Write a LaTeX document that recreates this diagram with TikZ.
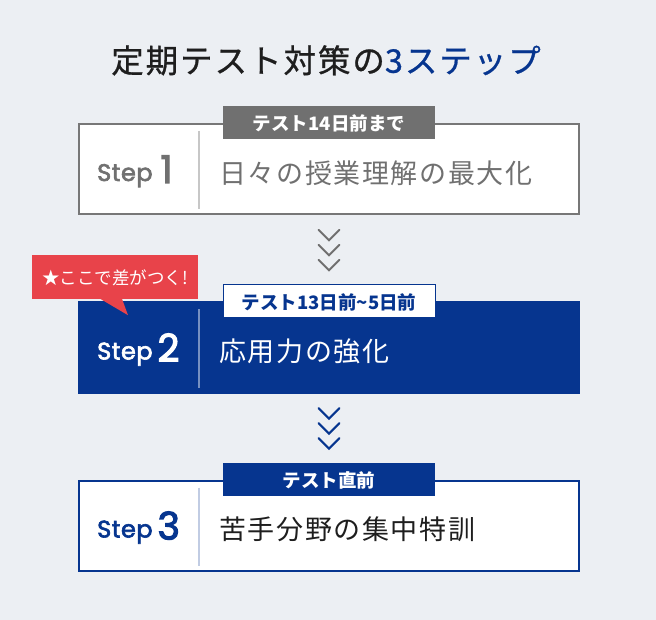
\documentclass[tikz,border=0pt]{standalone}
\usepackage{fontspec}
\setmainfont{Noto Sans CJK JP}
\newfontfamily\jp[LetterSpace=6]{Noto Sans CJK JP}
\newfontfamily\jpt{Noto Sans CJK JP}
\newfontfamily\jptitle[LetterSpace=6,FakeBold=0.8]{Noto Sans CJK JP}
\newfontfamily\stepfont[FakeBold=2.6,LetterSpace=2]{Poppins}
\newfontfamily\stepnum[FakeBold=3]{Poppins}
\usetikzlibrary{positioning,calc}

\definecolor{bggray}{HTML}{ECEFF3}
\definecolor{stepgray}{HTML}{707070}
\definecolor{stepblue}{HTML}{06358F}
\definecolor{calloutred}{HTML}{E8434A}
\definecolor{inkblack}{HTML}{1E1E1E}

\begin{document}
\begin{tikzpicture}[x=1pt,y=-1pt,
                    stepbox/.style={rectangle,minimum width=500pt,minimum height=90pt,
                                    line width=2pt,inner sep=0pt},
                    tab/.style={rectangle,minimum width=212pt,minimum height=33pt,inner sep=0pt,
                                font=\jpt\bfseries\fontsize{18.5}{18.5}\selectfont},
                    steplbl/.style={anchor=base west,inner sep=0pt,
                                    font=\stepfont\fontsize{24}{24}\selectfont},
                    goal/.style={anchor=west,inner sep=0pt,font=\jp\fontsize{27}{27}\selectfont},
                    divider/.style={line width=1.2pt},
                    chev/.style={line width=2pt,line cap=round}]
\tikzstyle{every node}=[text depth=0pt]

% background and title
\fill[bggray] (0,0) rectangle (656,620);
\node[font=\jptitle\fontsize{32.5}{32.5}\selectfont,text=inkblack] (title) at (326,59)
     {定期テスト対策の{\color{stepblue}3ステップ}};

% step 1
\node[stepbox,draw=stepgray!95,fill=white] (box1) at (329,169) {};
\node[tab,fill=stepgray,text=white] (tab1) at (box1.north) {テスト14日前まで};
\draw[divider,draw=black!22] ([xshift=121pt,yshift=-8pt]box1.north west)
     -- ([xshift=121pt,yshift=6pt]box1.south west);
\node[steplbl,text=stepgray] (step1) at (97,181)
     {Step\hspace{8pt}{\stepnum\fontsize{38}{38}\selectfont\raisebox{-2pt}{1}}};
\node[goal,text=stepgray] (goal1) at (219,172) {日々の授業理解の最大化};

% step 2
\node[stepbox,draw=stepblue,fill=stepblue] (box2) at (329,347.5) {};
\node[tab,draw=stepblue,line width=1pt,fill=white,text=stepblue] (tab2) at (box2.north) {テスト13日前\textasciitilde 5日前};
\draw[divider,draw=stepblue!55!white] ([xshift=121pt,yshift=-8pt]box2.north west)
     -- ([xshift=121pt,yshift=6pt]box2.south west);
\node[steplbl,text=white] (step2) at (97,359.5)
     {Step\hspace{5pt}{\stepnum\fontsize{38}{38}\selectfont\raisebox{-2pt}{2}}};
\node[goal,text=white] (goal2) at (219,350.5) {応用力の強化};

% step 3
\node[stepbox,draw=stepblue,fill=white] (box3) at (329,525.5) {};
\node[tab,fill=stepblue,text=white] (tab3) at (box3.north) {テスト直前};
\draw[divider,draw=stepblue!25!white] ([xshift=121pt,yshift=-8pt]box3.north west)
     -- ([xshift=121pt,yshift=6pt]box3.south west);
\node[steplbl,text=stepblue] (step3) at (97,537.5)
     {Step\hspace{5pt}{\stepnum\fontsize{38}{38}\selectfont\raisebox{-2pt}{3}}};
\node[goal,text=inkblack] (goal3) at (219,528.5) {苦手分野の集中特訓};

% chevrons between the steps
\coordinate (arr1) at ($(box1.south)!0.5!(tab2.north)$);
\coordinate (arr2) at ($(box2.south)!0.5!(tab3.north)$);
\foreach \k in {-1,0,1}{
  \draw[chev,draw=stepgray] ([xshift=-10.5pt,yshift={(15*\k+5)*1pt}]arr1) -- ++(10.5pt,-10.5pt) -- ++(10.5pt,10.5pt);
  \draw[chev,draw=stepblue] ([xshift=-10.5pt,yshift={(15*\k+5)*1pt}]arr2) -- ++(10.5pt,-10.5pt) -- ++(10.5pt,10.5pt);
}

% callout
\node[rectangle,fill=calloutred,minimum width=166pt,minimum height=44pt,inner sep=0pt,
      text=white,font=\jpt\fontsize{17.5}{17.5}\selectfont] (hint) at (115,277) {★ここで差がつく!};
\fill[calloutred] ([xshift=-15pt,yshift=0.5pt]hint.south) -- ([xshift=13pt,yshift=-16pt]hint.south)
     -- ([xshift=7pt,yshift=0.5pt]hint.south) -- cycle;

\end{tikzpicture}
\end{document}
